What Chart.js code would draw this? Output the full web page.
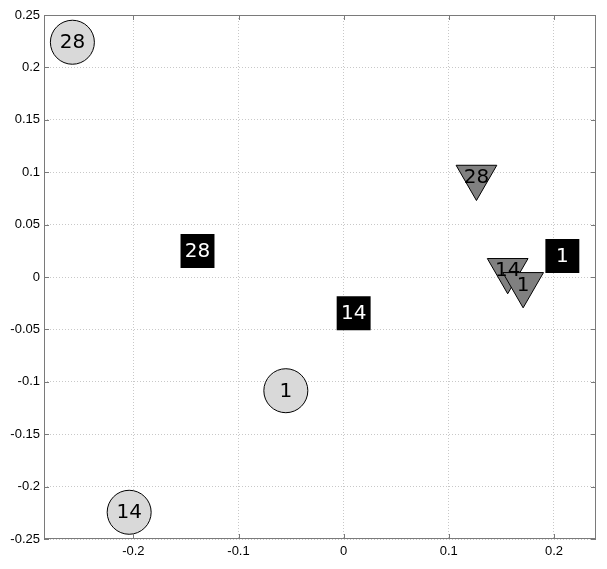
<!DOCTYPE html>
<html>
<head>
<meta charset="utf-8">
<script src="https://cdn.jsdelivr.net/npm/chart.js@4/dist/chart.umd.min.js"></script>
<style>
  html, body { margin: 0; padding: 0; background: #fff; }
  #wrap { width: 607px; height: 569px; }
</style>
</head>
<body>
<div id="wrap"><canvas id="chart" width="607" height="569"></canvas></div>
<script>
// values
const circleX = [-0.258, -0.204, -0.055];
const circleY = [0.224, -0.2245, -0.1085];
const circleLabels = ['28', '14', '1'];

const squareX = [-0.139, 0.0095, 0.208];
const squareY = [0.0248, -0.0346, 0.020];
const squareLabels = ['28', '14', '1'];

const triangleX = [0.1263, 0.156, 0.1707];
const triangleY = [0.0954, 0.0064, -0.007];
const triangleLabels = ['28', '14', '1'];

const xTicks = [-0.2, -0.1, 0, 0.1, 0.2];
const xTickLabels = ['-0.2', '-0.1', '0', '0.1', '0.2'];
const yTicks = [0.25, 0.2, 0.15, 0.1, 0.05, 0, -0.05, -0.1, -0.15, -0.2, -0.25];
const yTickLabels = ['0.25', '0.2', '0.15', '0.1', '0.05', '0', '-0.05', '-0.1', '-0.15', '-0.2', '-0.25'];

const toPoints = (xs, ys) => xs.map((x, i) => ({ x, y: ys[i] }));

// box round the axes, inward tick marks, and the text inside each marker
const decor = {
  id: 'decor',
  afterDraw(chart) {
    const { ctx, chartArea: a, scales } = chart;
    ctx.save();
    ctx.strokeStyle = '#7a7a7a';
    ctx.lineWidth = 1;
    ctx.strokeRect(a.left + 0.5, a.top + 0.5, a.right - a.left - 1, a.bottom - a.top - 1);
    ctx.beginPath();
    xTicks.forEach(v => {
      const px = Math.round(scales.x.getPixelForValue(v)) + 0.5;
      ctx.moveTo(px, a.bottom); ctx.lineTo(px, a.bottom - 5);
      ctx.moveTo(px, a.top); ctx.lineTo(px, a.top + 5);
    });
    yTicks.forEach(v => {
      const py = Math.round(scales.y.getPixelForValue(v)) + 0.5;
      ctx.moveTo(a.left, py); ctx.lineTo(a.left + 5, py);
      ctx.moveTo(a.right, py); ctx.lineTo(a.right - 5, py);
    });
    ctx.stroke();
    ctx.restore();
  },
  afterDatasetDraw(chart, args) {
    const { ctx } = chart;
    const ds = chart.data.datasets[args.index];
    const meta = args.meta;
    ctx.save();
    ctx.font = '20px "DejaVu Sans"';
    ctx.textAlign = 'center';
    ctx.textBaseline = 'middle';
    ctx.fillStyle = ds.textColor;
    meta.data.forEach((pt, i) => {
      ctx.fillText(ds.labels[i], pt.x, pt.y + 1);
    });
    ctx.restore();
  }
};

new Chart(document.getElementById('chart'), {
  type: 'scatter',
  data: {
    datasets: [
      {
        data: toPoints(circleX, circleY),
        labels: circleLabels,
        textColor: '#000',
        pointStyle: 'circle',
        pointRadius: 22,
        pointHoverRadius: 22,
        backgroundColor: '#d9d9d9',
        borderColor: '#000',
        borderWidth: 1,
        clip: false
      },
      {
        data: toPoints(squareX, squareY),
        labels: squareLabels,
        textColor: '#fff',
        pointStyle: 'rect',
        pointRadius: 24,
        pointHoverRadius: 24,
        backgroundColor: '#000',
        borderColor: '#000',
        borderWidth: 0,
        clip: false
      },
      {
        data: toPoints(triangleX, triangleY),
        labels: triangleLabels,
        textColor: '#000',
        pointStyle: 'triangle',
        rotation: 180,
        pointRotation: 180,
        pointRadius: 23.5,
        pointHoverRadius: 23.5,
        backgroundColor: '#808080',
        borderColor: '#000',
        borderWidth: 1,
        clip: false
      }
    ]
  },
  options: {
    responsive: false,
    animation: false,
    events: [],
    layout: { autoPadding: false, padding: { top: 15, right: 11, left: 0, bottom: 0 } },
    plugins: {
      legend: { display: false },
      tooltip: { enabled: false }
    },
    scales: {
      x: {
        type: 'linear',
        min: -0.285,
        max: 0.24,
        afterBuildTicks: axis => { axis.ticks = xTicks.map(v => ({ value: v })); },
        afterFit: scale => { scale.height = 30; },
        ticks: {
          callback: (v, i) => xTickLabels[i],
          color: '#000',
          font: { family: '"Liberation Sans", Arial, sans-serif', size: 13 },
          padding: 5,
          maxRotation: 0
        },
        grid: { color: '#c8c8c8', drawTicks: false },
        border: { display: false, dash: [1, 2] }
      },
      y: {
        type: 'linear',
        min: -0.25,
        max: 0.25,
        afterBuildTicks: axis => { axis.ticks = yTicks.map(v => ({ value: v })); },
        afterFit: scale => { scale.width = 44; },
        ticks: {
          callback: (v, i) => yTickLabels[i],
          color: '#000',
          font: { family: '"Liberation Sans", Arial, sans-serif', size: 13 },
          padding: 4
        },
        grid: { color: '#c8c8c8', drawTicks: false },
        border: { display: false, dash: [1, 2] }
      }
    }
  },
  plugins: [decor]
});
</script>
</body>
</html>
